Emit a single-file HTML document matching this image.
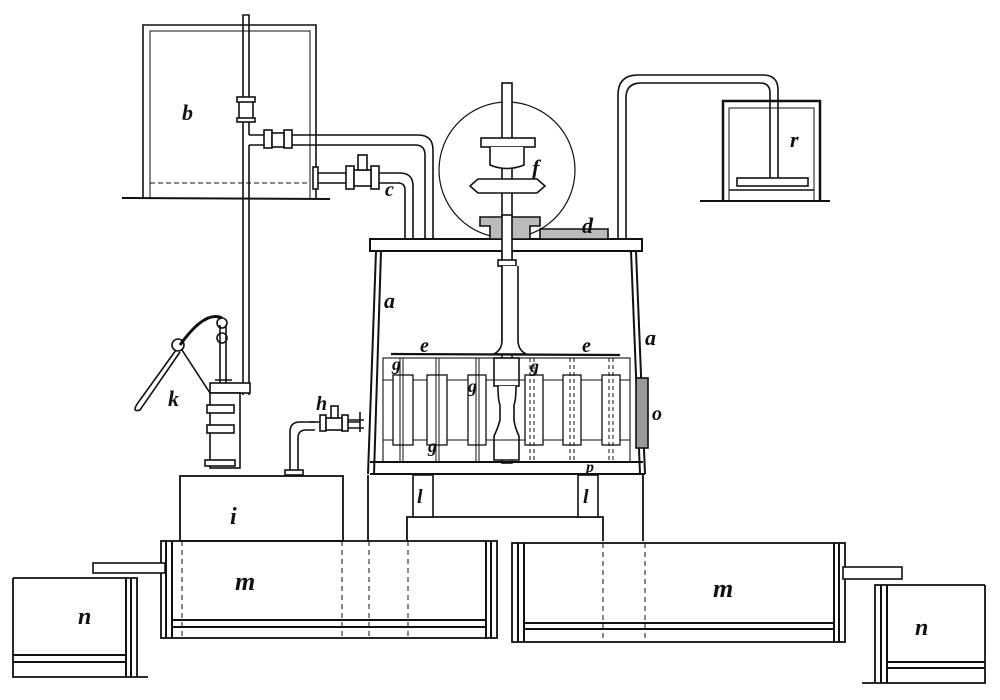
<!DOCTYPE html>
<html><head><meta charset="utf-8"><style>
html,body{margin:0;padding:0;background:#fff;width:1000px;height:700px;overflow:hidden}
svg text{font-family:"Liberation Serif",serif;font-style:italic;font-weight:bold;fill:#111}
</style></head><body>
<svg width="1000" height="700" viewBox="0 0 1000 700" xmlns="http://www.w3.org/2000/svg" fill="none" stroke="#111" stroke-width="1.6">
<!-- tank b -->
<path d="M143 198V25H316V198"/>
<path d="M150 198V31H310V198" stroke-width="1"/>
<path d="M150 183H310" stroke-dasharray="5 3" stroke-width="1"/>
<line x1="122" y1="198" x2="330" y2="199" stroke-width="2"/>
<text x="182" y="120" font-size="22" stroke="none">b</text>
<!-- vertical pipe -->
<path d="M243 395V15H249V135"/>
<path d="M249 145V395"/>
<rect x="239" y="100" width="14" height="20" fill="#fff"/>
<rect x="237" y="97" width="18" height="5" fill="#fff"/>
<rect x="237" y="118" width="18" height="4" fill="#fff"/>
<!-- pipe to lid -->
<path d="M249 135H418Q433 135 433 150V238"/>
<path d="M249 145H415Q425 145 425 155V238"/>
<rect x="264" y="130" width="8" height="18" fill="#fff"/><rect x="284" y="130" width="8" height="18" fill="#fff"/>
<rect x="272" y="133" width="12" height="14" fill="#fff"/>
<!-- pipe c -->
<path d="M316 173H400Q413 173 413 186V238"/>
<path d="M316 183H398Q405 183 405 190V238"/>
<rect x="313" y="167" width="5" height="22" fill="#fff"/>
<rect x="346" y="166" width="8" height="23" fill="#fff"/><rect x="371" y="166" width="8" height="23" fill="#fff"/>
<rect x="354" y="170" width="17" height="16" fill="#fff"/><rect x="358" y="155" width="9" height="15" fill="#fff"/>
<text x="385" y="196" font-size="20" stroke="none">c</text>
<!-- globe f -->
<circle cx="507" cy="170" r="68" stroke-width="1.2"/>
<rect x="502" y="83" width="10" height="380" fill="#fff"/>
<rect x="481" y="138" width="54" height="9" fill="#fff"/>
<path d="M490 147V165Q507 172 524 165V147" fill="#fff"/>
<path d="M470 186L478 179H537L545 186L537 193H478Z" fill="#fff"/>
<text x="532" y="175" font-size="22" stroke="none">f</text>
<!-- lid d -->
<rect x="370" y="239" width="272" height="12" fill="#fff" stroke-width="2"/>
<path d="M480 217H540V226H530V239H490V226H480Z" fill="#bbb"/>
<path d="M540 229H608V239H540Z" fill="#bbb"/>
<rect x="502" y="215" width="10" height="50" fill="#fff"/>
<text x="582" y="233" font-size="22" stroke="none">d</text>
<!-- r -->
<path d="M618 240V95Q618 75 638 75H763Q778 75 778 90V178"/>
<path d="M626 240V98Q626 83 641 83H760Q770 83 770 93V178"/>
<path d="M723 200V101H820V200" stroke-width="2.5"/>
<path d="M729 200V108H814V200" stroke-width="1"/>
<line x1="700" y1="201" x2="830" y2="201" stroke-width="2"/>
<rect x="737" y="178" width="71" height="8" fill="#fff"/>
<line x1="729" y1="190" x2="814" y2="190"/>
<text x="790" y="147" font-size="22" stroke="none">r</text>
<!-- vessel a -->
<path d="M376 251L368 474M381 251L374 474" stroke-width="2"/>
<path d="M636 251L645 474M631 251L640 474" stroke-width="2"/>
<path d="M370 462H643M370 474H645" stroke-width="2"/>
<text x="384" y="308" font-size="22" stroke="none">a</text>
<text x="645" y="345" font-size="22" stroke="none">a</text>
<!-- shaft detail -->
<rect x="498" y="260" width="18" height="6" fill="#fff"/>
<path d="M502 266V340Q502 350 494 354H526Q518 350 518 340V266" fill="#fff"/>
<rect x="494" y="358" width="25" height="28" fill="#fff"/>
<path d="M498 386Q498 400 500 405V420Q498 428 494 436V460H519V436Q515 428 514 420V405Q516 400 516 386" fill="#fff"/>
<!-- cage -->
<line x1="391" y1="354" x2="620" y2="355" stroke-width="2.2"/>
<rect x="383" y="358" width="247" height="104" stroke-width="1.1"/>
<line x1="383" y1="380" x2="630" y2="380" stroke-width="1"/>
<line x1="383" y1="440" x2="630" y2="440" stroke-width="1"/>
<g fill="#fff" stroke-width="1.3">
<rect x="393" y="375" width="20" height="70"/><rect x="427" y="375" width="20" height="70"/>
<rect x="468" y="375" width="18" height="70"/><rect x="525" y="375" width="18" height="70"/>
<rect x="563" y="375" width="18" height="70"/><rect x="602" y="375" width="18" height="70"/>
</g>
<path d="M400 358V462M403 358V462M436 358V462M439 358V462M476 358V462M479 358V462" stroke-width="1"/>
<path d="M530 358V462M534 358V462M570 358V462M574 358V462M609 358V462M613 358V462" stroke-dasharray="4 3" stroke-width="1"/>
<text x="420" y="352" font-size="20" stroke="none">e</text>
<text x="582" y="352" font-size="20" stroke="none">e</text>
<text x="392" y="370" font-size="18" stroke="none">g</text>
<text x="468" y="392" font-size="18" stroke="none">g</text>
<text x="530" y="372" font-size="18" stroke="none">g</text>
<text x="428" y="452" font-size="18" stroke="none">g</text>
<!-- o -->
<rect x="636" y="378" width="12" height="70" fill="#999"/>
<text x="652" y="420" font-size="20" stroke="none">o</text>
<text x="586" y="472" font-size="16" stroke="none">p</text>
<!-- h -->
<path d="M360 412V432M310 422H360" />
<path d="M290 470V432Q290 422 300 422H315M298 470V438Q298 430 306 430H315"/>
<rect x="320" y="415" width="6" height="16" fill="#fff"/><rect x="342" y="415" width="6" height="16" fill="#fff"/>
<rect x="326" y="418" width="16" height="12" fill="#fff"/><rect x="331" y="406" width="7" height="12" fill="#fff"/>
<path d="M348 420H364M348 428H364"/>
<rect x="285" y="470" width="18" height="5" fill="#fff"/>
<text x="316" y="410" font-size="20" stroke="none">h</text>
<!-- pump k -->
<rect x="210" y="383" width="40" height="10" fill="#fff"/>
<rect x="210" y="393" width="30" height="75" fill="#fff"/>
<rect x="207" y="405" width="27" height="8" fill="#fff"/><rect x="207" y="425" width="27" height="8" fill="#fff"/>
<rect x="205" y="460" width="30" height="6" fill="#fff"/>
<path d="M220 383V325M226 383V325M215 380H232"/>
<circle cx="222" cy="323" r="5"/><circle cx="222" cy="338" r="5"/>
<path d="M180 345Q205 310 222 318" stroke-width="3"/>
<circle cx="178" cy="345" r="6"/>
<path d="M176 350L140 400Q130 413 140 410L180 352M182 350L210 393" stroke-width="1.6"/>
<text x="168" y="406" font-size="22" stroke="none">k</text>
<!-- i -->
<rect x="180" y="476" width="163" height="65" stroke-width="1.8"/>
<text x="230" y="524" font-size="24" stroke="none">i</text>
<!-- stand -->
<path d="M368 475V541M643 475V541" stroke-width="1.8"/>
<path d="M407 541V517H603V541" stroke-width="1.8"/>
<rect x="413" y="475" width="20" height="42" fill="#fff"/>
<rect x="578" y="475" width="20" height="42" fill="#fff"/>
<text x="417" y="503" font-size="20" stroke="none">l</text>
<text x="583" y="503" font-size="20" stroke="none">l</text>
<!-- m troughs -->
<rect x="161" y="541" width="336" height="97" stroke-width="1.8"/>
<path d="M166 541V638M172 541V638M491 541V638M486 541V638" stroke-width="2"/>
<path d="M172 620H486M172 627H486" stroke-width="2"/>
<path d="M182 541V638M342 541V638M369 541V638M408 541V638" stroke-dasharray="5 4" stroke-width="1"/>
<rect x="512" y="543" width="333" height="99" stroke-width="1.8"/>
<path d="M518 543V642M524 543V642M834 543V642M839 543V642" stroke-width="2"/>
<path d="M524 623H834M524 629H834" stroke-width="2"/>
<path d="M603 543V642M645 543V642" stroke-dasharray="5 4" stroke-width="1"/>
<text x="235" y="590" font-size="26" stroke="none">m</text>
<text x="713" y="597" font-size="26" stroke="none">m</text>
<!-- spouts -->
<rect x="93" y="563" width="72" height="10" fill="#fff"/>
<rect x="843" y="567" width="59" height="12" fill="#fff"/>
<!-- n -->
<path d="M13 578H137V677M13 578V677H148" stroke-width="1.8"/>
<path d="M126 578V677M131 578V677" stroke-width="2"/>
<path d="M13 655H126M13 662H126" stroke-width="2"/>
<text x="78" y="624" font-size="24" stroke="none">n</text>
<path d="M985 585H875V683M985 585V683H862" stroke-width="1.8"/>
<path d="M881 585V683M887 585V683" stroke-width="2"/>
<path d="M887 662H985M887 668H985" stroke-width="2"/>
<text x="915" y="635" font-size="24" stroke="none">n</text>
</svg>
</body></html>
